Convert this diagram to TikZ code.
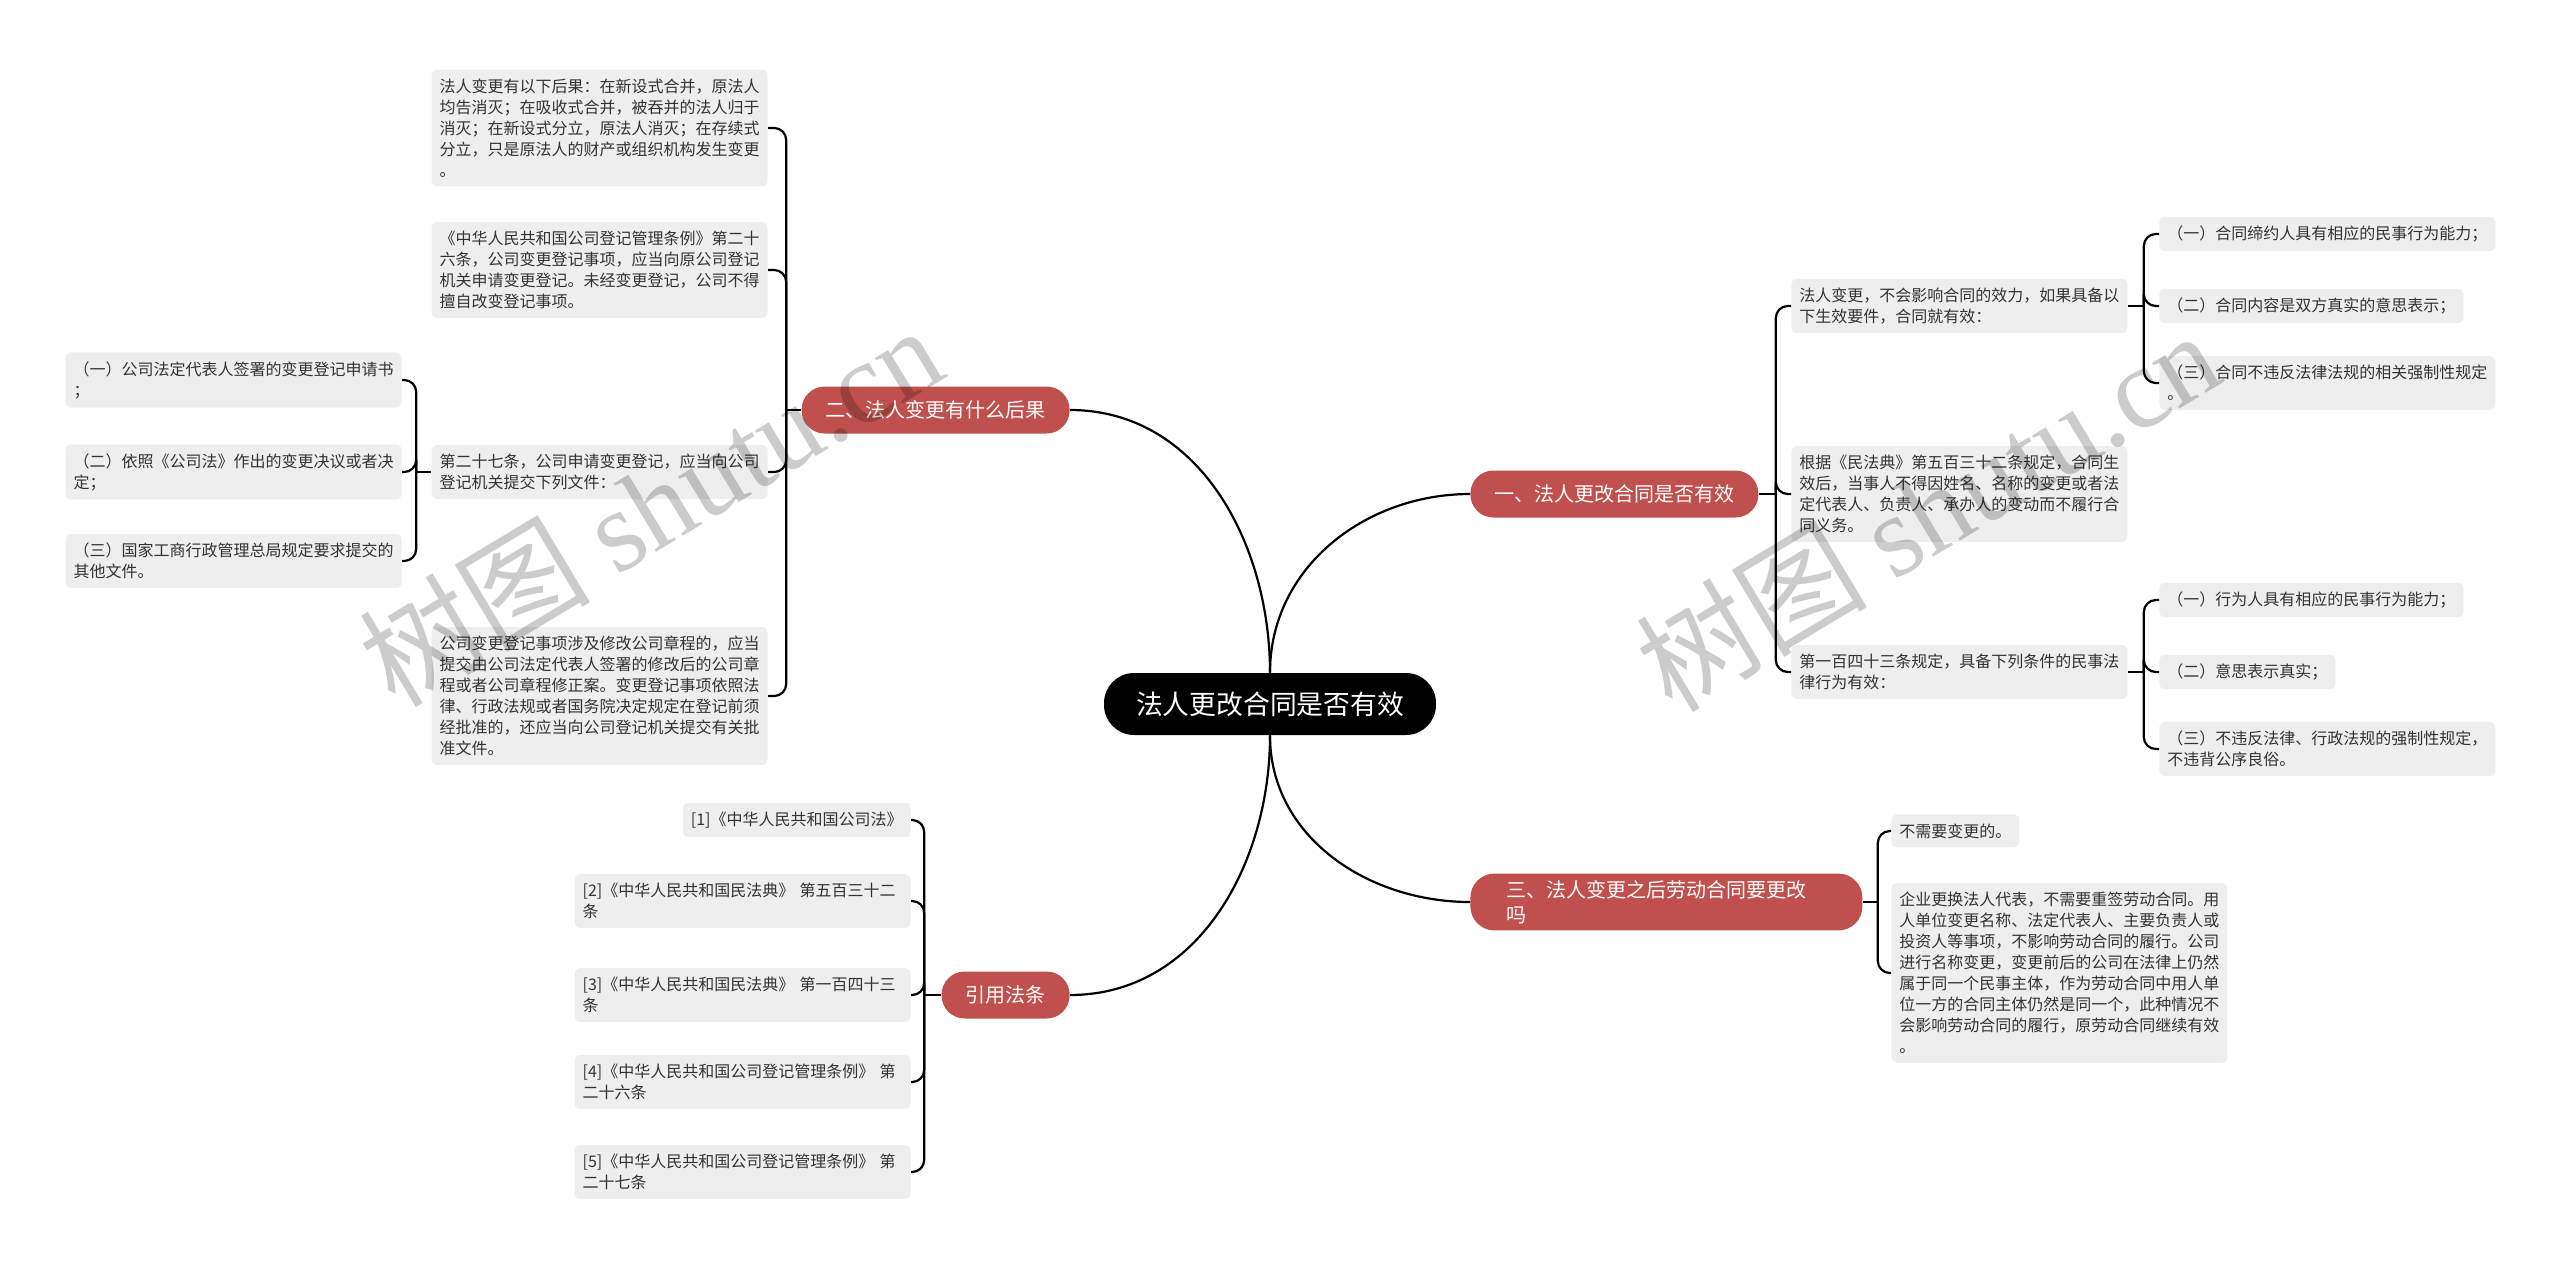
\documentclass[tikz,border=0pt]{standalone}
\usepackage{fontspec}
\setmainfont{Noto Sans CJK SC}
\newfontfamily\wmfont{Liberation Serif}
\definecolor{topicred}{RGB}{192,80,77}
\definecolor{leafgray}{RGB}{238,238,238}
\definecolor{leaftext}{RGB}{51,51,51}
\tikzset{
  root/.style={fill=black, text=white, rounded corners=15pt, inner xsep=16pt, minimum height=31pt, font=\fontsize{13.4pt}{16pt}\selectfont},
  topic/.style={fill=topicred, text=white, rounded corners=11.5pt, inner xsep=12pt, minimum height=23.5pt, font=\fontsize{10pt}{12.5pt}\selectfont},
  leaf/.style={fill=leafgray, text=leaftext, rounded corners=2.5pt, inner xsep=4pt, inner ysep=4.5pt, align=left, font=\fontsize{8pt}{10.5pt}\selectfont},
  wide/.style={leaf, text width=160pt},
  link/.style={draw=black, line width=1.1pt},
  fork/.style={link, rounded corners=6pt},
  watermark/.style={rotate=31, text=black, text opacity=0.2, font=\fontsize{58pt}{58pt}\selectfont}
}
\begin{document}
\begin{tikzpicture}[x=0.5pt,y=0.5pt]
\useasboundingbox (0,0) rectangle (2560,-1270);
\node[root] (root) at (1270,-704) {法人更改合同是否有效};
\node[topic, anchor=west] (b1) at (1470,-494) {一、法人更改合同是否有效};
\node[topic, anchor=east] (b2) at (1070,-410) {二、法人变更有什么后果};
\node[topic, anchor=west, text width=160pt, align=left, inner xsep=18pt, rounded corners=12pt] (b3) at (1470,-902) {三、法人变更之后劳动合同要更改\\吗};
\node[topic, anchor=east] (b4) at (1070,-995) {引用法条};
\draw[link] (root.north) to[out=90,in=180] (b1.west);
\draw[link] (root.north) to[out=90,in=0] (b2.east);
\draw[link] (root.south) to[out=-90,in=180] (b3.west);
\draw[link] (root.south) to[out=-90,in=0] (b4.east);

\node[wide, anchor=west] (r1a) at (1791,-306) {法人变更，不会影响合同的效力，如果具备以\\下生效要件，合同就有效：};
\node[wide, anchor=west] (r1b) at (1791,-494) {根据《民法典》第五百三十二条规定，合同生\\效后，当事人不得因姓名、名称的变更或者法\\定代表人、负责人、承办人的变动而不履行合\\同义务。};
\node[wide, anchor=west] (r1c) at (1791,-672) {第一百四十三条规定，具备下列条件的民事法\\律行为有效：};
\node[leaf, anchor=west] (r1a1) at (2159,-234) {（一）合同缔约人具有相应的民事行为能力；};
\node[leaf, anchor=west] (r1a2) at (2159,-306) {（二）合同内容是双方真实的意思表示；};
\node[wide, anchor=west] (r1a3) at (2159,-383) {（三）合同不违反法律法规的相关强制性规定\\。};
\node[leaf, anchor=west] (r1c1) at (2159,-600) {（一）行为人具有相应的民事行为能力；};
\node[leaf, anchor=west] (r1c2) at (2159,-672) {（二）意思表示真实；};
\node[wide, anchor=west] (r1c3) at (2159,-749) {（三）不违反法律、行政法规的强制性规定，\\不违背公序良俗。};
\node[leaf, anchor=west] (r3a) at (1891,-831) {不需要变更的。};
\node[wide, anchor=west] (r3b) at (1891,-973) {企业更换法人代表，不需要重签劳动合同。用\\人单位变更名称、法定代表人、主要负责人或\\投资人等事项，不影响劳动合同的履行。公司\\进行名称变更，变更前后的公司在法律上仍然\\属于同一个民事主体，作为劳动合同中用人单\\位一方的合同主体仍然是同一个，此种情况不\\会影响劳动合同的履行，原劳动合同继续有效\\。};

\node[wide, anchor=east] (l2a) at (768,-128) {法人变更有以下后果：在新设式合并，原法人\\均告消灭；在吸收式合并，被吞并的法人归于\\消灭；在新设式分立，原法人消灭；在存续式\\分立，只是原法人的财产或组织机构发生变更\\。};
\node[wide, anchor=east] (l2b) at (768,-270) {《中华人民共和国公司登记管理条例》第二十\\六条，公司变更登记事项，应当向原公司登记\\机关申请变更登记。未经变更登记，公司不得\\擅自改变登记事项。};
\node[wide, anchor=east] (l2c) at (768,-472) {第二十七条，公司申请变更登记，应当向公司\\登记机关提交下列文件：};
\node[wide, anchor=east] (l2d) at (768,-696) {公司变更登记事项涉及修改公司章程的，应当\\提交由公司法定代表人签署的修改后的公司章\\程或者公司章程修正案。变更登记事项依照法\\律、行政法规或者国务院决定规定在登记前须\\经批准的，还应当向公司登记机关提交有关批\\准文件。};
\node[wide, anchor=east] (l2c1) at (402,-380) {（一）公司法定代表人签署的变更登记申请书\\；};
\node[wide, anchor=east] (l2c2) at (402,-472) {（二）依照《公司法》作出的变更决议或者决\\定；};
\node[wide, anchor=east] (l2c3) at (402,-561) {（三）国家工商行政管理总局规定要求提交的\\其他文件。};

\node[leaf, anchor=east] (f1) at (911,-820) {[1]《中华人民共和国公司法》};
\node[wide, anchor=east] (f2) at (911,-901) {[2]《中华人民共和国民法典》 第五百三十二\\条};
\node[wide, anchor=east] (f3) at (911,-995) {[3]《中华人民共和国民法典》 第一百四十三\\条};
\node[wide, anchor=east] (f4) at (911,-1082) {[4]《中华人民共和国公司登记管理条例》 第\\二十六条};
\node[wide, anchor=east] (f5) at (911,-1172) {[5]《中华人民共和国公司登记管理条例》 第\\二十七条};

\draw[link] (b1.east) -- ++(17,0) coordinate (j1);
\draw[fork] (j1) |- (r1a.west);
\draw[fork] (j1) |- (r1b.west);
\draw[fork] (j1) |- (r1c.west);
\draw[link] (r1a.east) -- ++(16,0) coordinate (ja);
\draw[fork] (ja) |- (r1a1.west);
\draw[fork] (ja) |- (r1a2.west);
\draw[fork] (ja) |- (r1a3.west);
\draw[link] (r1c.east) -- ++(16,0) coordinate (jc);
\draw[fork] (jc) |- (r1c1.west);
\draw[fork] (jc) |- (r1c2.west);
\draw[fork] (jc) |- (r1c3.west);
\draw[link] (b3.east) -- ++(15,0) coordinate (j3);
\draw[fork] (j3) |- (r3a.west);
\draw[fork] (j3) |- (r3b.west);
\draw[link] (b2.west) -- ++(-15,0) coordinate (j2);
\draw[fork] (j2) |- (l2a.east);
\draw[fork] (j2) |- (l2b.east);
\draw[fork] (j2) |- (l2c.east);
\draw[fork] (j2) |- (l2d.east);
\draw[link] (l2c.west) -- ++(-15,0) coordinate (jl);
\draw[fork] (jl) |- (l2c1.east);
\draw[fork] (jl) |- (l2c2.east);
\draw[fork] (jl) |- (l2c3.east);
\draw[link] (b4.west) -- ++(-17,0) coordinate (j4);
\draw[fork] (j4) |- (f1.east);
\draw[fork] (j4) |- (f2.east);
\draw[fork] (j4) |- (f3.east);
\draw[fork] (j4) |- (f4.east);
\draw[fork] (j4) |- (f5.east);

\node[watermark] (wm1) at (650,-505) {树图 {\wmfont shutu.cn}};
\node[watermark] (wm2) at (1927,-510) {树图 {\wmfont shutu.cn}};
\end{tikzpicture}
\end{document}
